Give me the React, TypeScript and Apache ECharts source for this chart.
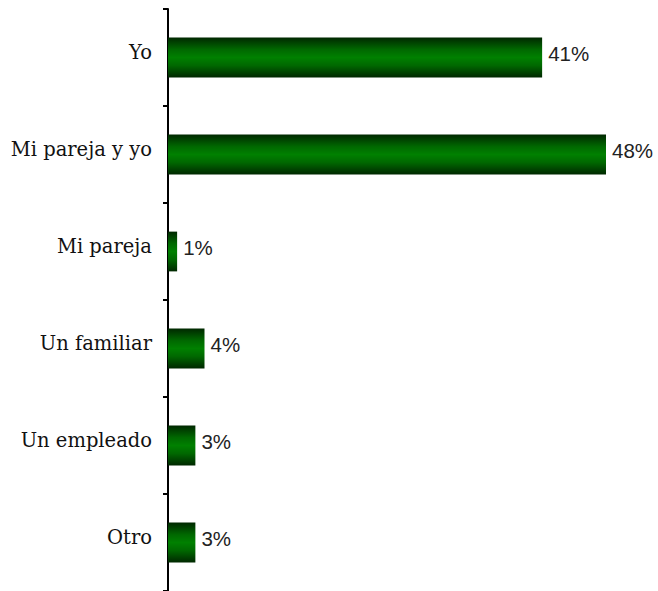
import React, { useEffect, useRef } from "react";
import * as echarts from "echarts";

const categories = ["Yo", "Mi pareja y yo", "Mi pareja", "Un familiar", "Un empleado", "Otro"];
const values = [41, 48, 1, 4, 3, 3];

export default function App() {
  const ref = useRef<HTMLDivElement>(null);
  useEffect(() => {
    document.body.style.margin = "0";
    const chart = echarts.init(ref.current!, null, { renderer: "svg" });
    chart.setOption({
      animation: false,
      backgroundColor: "#ffffff",
      grid: { left: 168, top: 9, width: 474.5, height: 585, containLabel: false },
      xAxis: {
        type: "value",
        min: 0,
        max: 52,
        show: false,
      },
      yAxis: {
        type: "category",
        data: categories,
        inverse: true,
        axisLine: { show: true, lineStyle: { color: "#000", width: 2 } },
        axisTick: { show: true, length: 5, lineStyle: { color: "#000", width: 2 } },
        axisLabel: {
          margin: 16,
          fontFamily: "DejaVu Serif",
          fontSize: 19.5,
          color: "#111",
          verticalAlign: "bottom",
          lineHeight: 10,
        },
        splitLine: { show: false },
      },
      series: [
        {
          type: "bar",
          data: values,
          barWidth: "41%",
          itemStyle: {
            color: new echarts.graphic.LinearGradient(0, 0, 0, 1, [
              { offset: 0, color: "#002800" },
              { offset: 0.3, color: "#006800" },
              { offset: 0.5, color: "#008000" },
              { offset: 0.7, color: "#006800" },
              { offset: 1, color: "#002800" },
            ]),
          },
          label: {
            show: true,
            position: "right",
            distance: 6,
            offset: [0, -4],
            formatter: "{c}%",
            fontFamily: "Liberation Sans",
            fontSize: 20.5,
            color: "#222",
          },
        },
      ],
    });
    return () => chart.dispose();
  }, []);
  return <div ref={ref} style={{ position: "fixed", left: 0, top: 0, width: 658, height: 591 }} />;
}
